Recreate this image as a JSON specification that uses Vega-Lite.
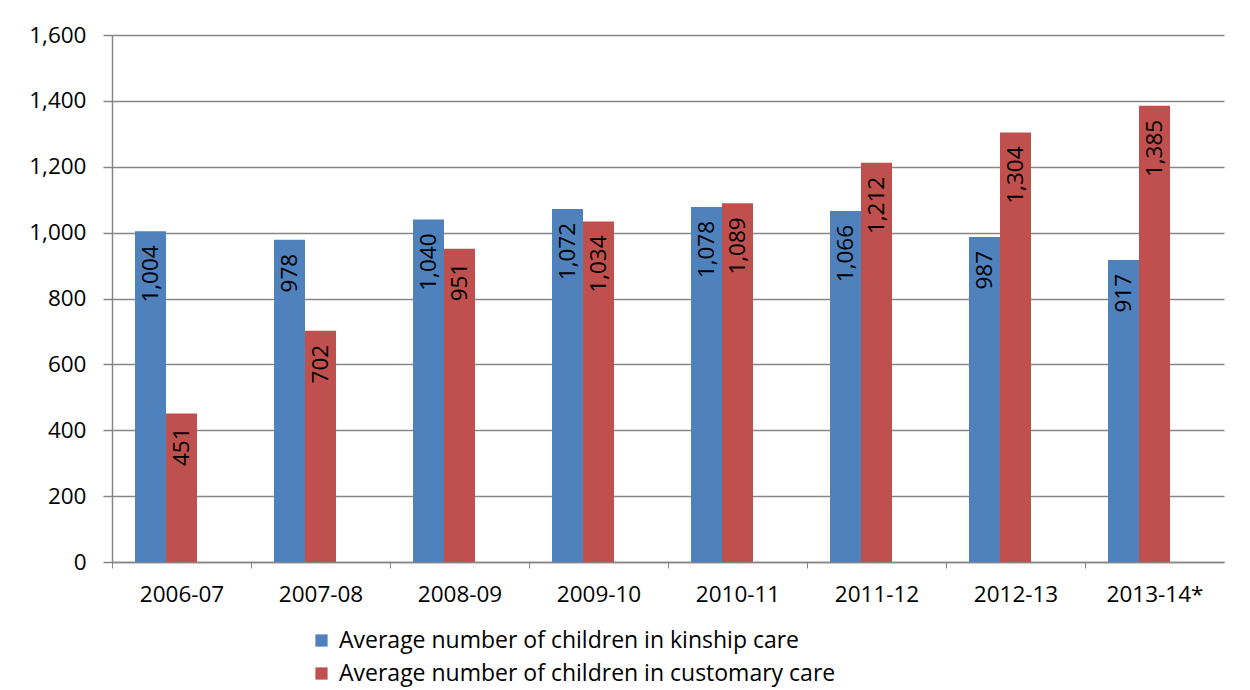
{
  "$schema": "https://vega.github.io/schema/vega-lite/v6.json",
  "width": 1112,
  "height": 527,
  "autosize": {"type": "none"},
  "padding": {"left": 112, "top": 35, "right": 26, "bottom": 128},
  "background": "white",
  "config": {
    "font": "Open Sans",
    "view": {"stroke": null},
    "axis": {"labelFont": "Open Sans", "labelColor": "black", "labelFontSize": 22.5, "domainColor": "#868686", "tickColor": "#868686", "gridColor": "#868686", "title": null}
  },
  "data": {
    "values": [
      {"year": "2006-07", "series": "Average number of children in kinship care", "value": 1004},
      {"year": "2007-08", "series": "Average number of children in kinship care", "value": 978},
      {"year": "2008-09", "series": "Average number of children in kinship care", "value": 1040},
      {"year": "2009-10", "series": "Average number of children in kinship care", "value": 1072},
      {"year": "2010-11", "series": "Average number of children in kinship care", "value": 1078},
      {"year": "2011-12", "series": "Average number of children in kinship care", "value": 1066},
      {"year": "2012-13", "series": "Average number of children in kinship care", "value": 987},
      {"year": "2013-14*", "series": "Average number of children in kinship care", "value": 917},
      {"year": "2006-07", "series": "Average number of children in customary care", "value": 451},
      {"year": "2007-08", "series": "Average number of children in customary care", "value": 702},
      {"year": "2008-09", "series": "Average number of children in customary care", "value": 951},
      {"year": "2009-10", "series": "Average number of children in customary care", "value": 1034},
      {"year": "2010-11", "series": "Average number of children in customary care", "value": 1089},
      {"year": "2011-12", "series": "Average number of children in customary care", "value": 1212},
      {"year": "2012-13", "series": "Average number of children in customary care", "value": 1304},
      {"year": "2013-14*", "series": "Average number of children in customary care", "value": 1385}
    ]
  },
  "encoding": {
    "x": {
      "field": "year", "type": "nominal", "sort": null,
      "scale": {"paddingInner": 0.331, "paddingOuter": 0.1655},
      "axis": {"labelAngle": 0, "tickSize": 6, "labelPadding": 15, "tickOffset": -69.5, "labelOffset": 69.5, "domainWidth": 1.5, "grid": false}
    },
    "xOffset": {"field": "series", "type": "nominal", "scale": {"domain": ["Average number of children in kinship care", "Average number of children in customary care", "(empty)"], "paddingInner": 0, "paddingOuter": 0}},
    "y": {
      "field": "value", "type": "quantitative",
      "scale": {"domain": [0, 1600], "nice": false},
      "axis": {"values": [0, 200, 400, 600, 800, 1000, 1200, 1400, 1600], "format": ",d", "tickSize": 9, "labelPadding": 17, "gridWidth": 1.5, "domainWidth": 1.5, "tickWidth": 1.5}
    }
  },
  "layer": [
    {
      "mark": {"type": "bar"},
      "encoding": {
        "color": {
          "field": "series", "type": "nominal",
          "scale": {"domain": ["Average number of children in kinship care", "Average number of children in customary care"], "range": ["#4F81BD", "#C0504D"]},
          "legend": {"title": null, "orient": "none", "legendX": 198, "legendY": 594, "direction": "vertical", "symbolType": "square", "symbolSize": 150, "symbolStrokeWidth": 0, "labelFontSize": 23, "labelColor": "black", "labelFont": "Open Sans", "rowPadding": 9, "labelOffset": 6, "labelLimit": 700}
        }
      }
    },
    {
      "mark": {"type": "text", "angle": 270, "align": "right", "baseline": "middle", "dx": -14, "fontSize": 22.5, "font": "Open Sans", "color": "black"},
      "encoding": {
        "text": {"field": "value", "type": "quantitative", "format": ",d"}
      }
    }
  ]
}
